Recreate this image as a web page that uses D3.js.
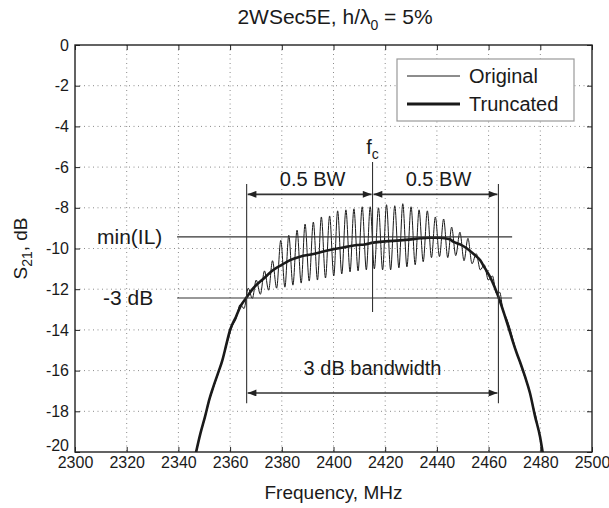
<!DOCTYPE html>
<html><head><meta charset="utf-8">
<script src="https://cdn.jsdelivr.net/npm/d3@7"></script>
<style>
body{margin:0;background:#fff}
svg{display:block}
text{font-family:"Liberation Sans",Arial,Helvetica,sans-serif;fill:#1a1a1a}
</style>
</head><body>
<svg id="chart" width="609" height="508"></svg>
<script>
// ---------- data ----------
const xTickValues = [2300,2320,2340,2360,2380,2400,2420,2440,2460,2480,2500];
const yTickValues = [0,-2,-4,-6,-8,-10,-12,-14,-16,-18,-20];

const truncFreq = [2346.5,2348.5,2350.3,2352.0,2353.5,2355.4,2357.0,2358.0,2360.0,2362.3,2364.0,2366.4,2369.0,2372.8,2376.7,2380.0,2383.2,2387.0,2392.2,2396.0,2399.9,2405.0,2409.0,2412.0,2415.4,2420.0,2425.7,2430.0,2433.5,2437.0,2441.2,2445.0,2446.3,2449.0,2451.5,2454.0,2456.7,2458.5,2460.5,2462.2,2463.8,2466.0,2467.6,2469.2,2470.9,2472.5,2474.1,2476.0,2478.0,2479.9,2480.9,2481.3];
const truncDb   = [-20.2,-19.1,-18.26,-17.4,-16.8,-16.1,-15.5,-15.0,-14.0,-13.35,-12.85,-12.4,-11.95,-11.5,-11.06,-10.8,-10.57,-10.4,-10.27,-10.15,-10.04,-9.92,-9.83,-9.8,-9.71,-9.65,-9.6,-9.55,-9.5,-9.47,-9.47,-9.55,-9.66,-9.8,-9.99,-10.25,-10.57,-10.95,-11.38,-11.85,-12.37,-13.2,-13.84,-14.5,-15.15,-15.7,-16.3,-17.1,-18.26,-19.25,-20.0,-20.3];

const origFreq = [2346.6,2348.5,2350.3,2352.0,2353.5,2355.4,2357.0,2358.0,2359.3,2360.7,2362.3,2363.9,2365.4,2367.0,2368.6,2370.1,2371.7,2373.3,2374.9,2376.4,2378.0,2379.6,2381.2,2382.7,2384.3,2385.9,2387.5,2389.0,2390.6,2392.2,2393.8,2395.3,2396.9,2398.5,2400.1,2401.6,2403.2,2404.8,2406.4,2407.9,2409.5,2411.1,2412.7,2414.2,2415.8,2417.4,2419.0,2420.5,2422.1,2423.7,2425.3,2426.8,2428.4,2430.0,2431.6,2433.1,2434.7,2436.3,2437.9,2439.4,2441.0,2442.6,2444.2,2445.7,2447.3,2448.9,2450.5,2452.0,2453.6,2455.2,2456.8,2458.3,2459.9,2461.5,2463.0,2464.3,2465.5,2467.0,2468.2,2469.6,2470.9,2472.5,2474.1,2476.0,2477.3,2478.2,2479.0,2479.9,2481.0];
const origDb   = [-20.2,-19.1,-18.3,-17.45,-16.85,-16.15,-15.5,-15.0,-14.45,-13.85,-13.45,-12.75,-12.95,-11.95,-12.45,-11.55,-12.25,-11.1,-12.05,-10.6,-11.95,-9.6,-11.9,-9.35,-11.8,-9.1,-11.7,-8.8,-11.6,-8.7,-11.55,-8.45,-11.45,-8.4,-11.35,-8.15,-11.25,-8.1,-11.15,-8.05,-11.1,-7.95,-11.05,-7.95,-11.0,-8.0,-11.05,-7.85,-11.05,-7.9,-10.95,-7.8,-10.9,-7.95,-10.8,-8.1,-10.65,-8.15,-10.45,-8.45,-10.4,-8.55,-10.45,-8.95,-10.35,-9.2,-10.6,-9.5,-10.75,-10.25,-11.05,-10.8,-11.55,-11.35,-12.2,-12.15,-13.0,-13.45,-13.9,-14.55,-15.15,-15.75,-16.35,-17.1,-17.8,-18.2,-18.75,-19.3,-20.2];

// annotation values
const fLow = 2366.4, fCenter = 2415.1, fHigh = 2463.8;
const minIL = -9.43, minus3dB = -12.43;
const halfBwArrowDb = -7.34, bw3ArrowDb = -17.1;

// ---------- layout ----------
const W = 609, H = 508;
const m = {left:75, right:17, top:45, bottom:56};
const pw = W - m.left - m.right, ph = H - m.top - m.bottom;

const svg = d3.select("#chart");
const x = d3.scaleLinear().domain([2300,2500]).range([m.left, m.left+pw]);
const y = d3.scaleLinear().domain([-20,0]).range([m.top+ph, m.top]);

const defs = svg.append("defs");
defs.append("clipPath").attr("id","clip").append("rect")
  .attr("x",m.left).attr("y",m.top).attr("width",pw).attr("height",ph);
defs.append("marker").attr("id","arr")
  .attr("viewBox","0 0 10 8").attr("refX",10).attr("refY",4)
  .attr("markerWidth",10).attr("markerHeight",7)
  .attr("markerUnits","userSpaceOnUse").attr("orient","auto-start-reverse")
  .append("path").attr("d","M0,0 L10,4 L0,8 Z").attr("fill","#222");

// grid
const grid = svg.append("g");
grid.selectAll(".gx").data(xTickValues.slice(1,-1)).join("line")
  .attr("x1",d=>x(d)).attr("x2",d=>x(d)).attr("y1",m.top).attr("y2",m.top+ph)
  .attr("stroke","#8a8a8a").attr("stroke-width",1).attr("stroke-dasharray","1,3.5");
grid.selectAll(".gy").data(yTickValues.slice(1,-1)).join("line")
  .attr("y1",d=>y(d)).attr("y2",d=>y(d)).attr("x1",m.left).attr("x2",m.left+pw)
  .attr("stroke","#8a8a8a").attr("stroke-width",1).attr("stroke-dasharray","1,3.5");

// axes (ticks inward)
const fmt = d3.format("d");
const axB = svg.append("g").attr("transform",`translate(0,${m.top+ph})`)
  .call(d3.axisBottom(x).tickValues(xTickValues).tickFormat(fmt).tickSizeInner(-5).tickSizeOuter(0).tickPadding(5));
const axT = svg.append("g").attr("transform",`translate(0,${m.top})`)
  .call(d3.axisTop(x).tickValues(xTickValues).tickFormat("").tickSizeInner(-5).tickSizeOuter(0));
const axL = svg.append("g").attr("transform",`translate(${m.left},0)`)
  .call(d3.axisLeft(y).tickValues(yTickValues).tickFormat(d=>d).tickSizeInner(-5).tickSizeOuter(0).tickPadding(6));
const axR = svg.append("g").attr("transform",`translate(${m.left+pw},0)`)
  .call(d3.axisRight(y).tickValues(yTickValues).tickFormat("").tickSizeInner(-5).tickSizeOuter(0));
[axB,axT,axL,axR].forEach(a=>{
  a.select(".domain").remove();
  a.selectAll(".tick line").attr("stroke","#222");
  a.selectAll("text").attr("font-size","16px").attr("fill","#1a1a1a")
    .attr("font-family","'Liberation Sans',Arial,sans-serif");
});
axB.selectAll("text").attr("dy","0.66em");
axL.selectAll(".tick").filter(d=>d===-20).select("text").attr("dy","-0.1em");

// frame
svg.append("rect").attr("x",m.left).attr("y",m.top).attr("width",pw).attr("height",ph)
  .attr("fill","none").attr("stroke","#222").attr("stroke-width",1.4);

// series
const plot = svg.append("g").attr("clip-path","url(#clip)");
const origData = origFreq.map((f,i)=>[f,origDb[i]]);
const truncData = truncFreq.map((f,i)=>[f,truncDb[i]]);
plot.append("path").datum(origData)
  .attr("d",d3.line().x(d=>x(d[0])).y(d=>y(d[1])).curve(d3.curveMonotoneX))
  .attr("fill","none").attr("stroke","#1a1a1a").attr("stroke-width",1);
plot.append("path").datum(truncData)
  .attr("d",d3.line().x(d=>x(d[0])).y(d=>y(d[1])).curve(d3.curveMonotoneX))
  .attr("fill","none").attr("stroke","#1a1a1a").attr("stroke-width",2.6);

// annotations
const ann = svg.append("g").attr("stroke","#333").attr("stroke-width",1.1).attr("fill","none");
const hxs = [2339.5, 2469.1];
[minIL, minus3dB].forEach(v=>{
  ann.append("line").attr("x1",x(hxs[0])).attr("x2",x(hxs[1])).attr("y1",y(v)).attr("y2",y(v));
});
[fLow,fHigh].forEach(f=>{
  ann.append("line").attr("x1",x(f)).attr("x2",x(f)).attr("y1",y(-6.83)).attr("y2",y(-17.6));
});
ann.append("line").attr("x1",x(fCenter)).attr("x2",x(fCenter)).attr("y1",y(-5.75)).attr("y2",y(-13.12));
const arrows = [[fLow,fCenter,halfBwArrowDb],[fCenter,fHigh,halfBwArrowDb],[fLow,fHigh,bw3ArrowDb]];
arrows.forEach(([a,b,v])=>{
  ann.append("line").attr("x1",x(a)+1).attr("x2",x(b)-1).attr("y1",y(v)).attr("y2",y(v))
    .attr("stroke-width",1.6).attr("marker-start","url(#arr)").attr("marker-end","url(#arr)");
});

const txt = svg.append("g").attr("font-size","20px");
txt.append("text").attr("x",x((fLow+fCenter)/2)+3).attr("y",y(halfBwArrowDb)-8).attr("text-anchor","middle").text("0.5 BW");
txt.append("text").attr("x",x((fCenter+fHigh)/2)+3).attr("y",y(halfBwArrowDb)-8).attr("text-anchor","middle").text("0.5 BW");
txt.append("text").attr("x",x((fLow+fHigh)/2)).attr("y",y(bw3ArrowDb)-18).attr("text-anchor","middle").text("3 dB bandwidth");
txt.append("text").attr("x",97).attr("y",y(minIL)+7).attr("font-size","21px").text("min(IL)");
txt.append("text").attr("x",103).attr("y",y(minus3dB)+7).attr("font-size","21px").text("-3 dB");
const fc = txt.append("text").attr("x",x(fCenter)).attr("y",y(-5.75)-8).attr("text-anchor","middle");
fc.append("tspan").text("f");
fc.append("tspan").attr("font-size","14px").attr("dy","5").text("c");

// title
const t = svg.append("text").attr("x",335).attr("y",24).attr("text-anchor","middle").attr("font-size","21px");
t.append("tspan").text("2WSec5E, h/λ");
t.append("tspan").attr("font-size","14px").attr("dy","6").text("0");
t.append("tspan").attr("dy","-6").text(" = 5%");

// axis labels
svg.append("text").attr("x",m.left+pw/2).attr("y",499).attr("text-anchor","middle").attr("font-size","19px").text("Frequency, MHz");
const yl = svg.append("text").attr("transform",`translate(27,${m.top+ph/2}) rotate(-90)`).attr("text-anchor","middle").attr("font-size","19px");
yl.append("tspan").text("S");
yl.append("tspan").attr("font-size","14px").attr("dy","5").text("21");
yl.append("tspan").attr("dy","-5").text(", dB");

// legend
const lg = svg.append("g");
lg.append("rect").attr("x",397).attr("y",59).attr("width",177).attr("height",62)
  .attr("fill","#fff").attr("stroke","#999").attr("stroke-width",1.2);
lg.append("line").attr("x1",407).attr("x2",460).attr("y1",76).attr("y2",76).attr("stroke","#1a1a1a").attr("stroke-width",1);
lg.append("line").attr("x1",407).attr("x2",460).attr("y1",104).attr("y2",104).attr("stroke","#1a1a1a").attr("stroke-width",2.8);
lg.append("text").attr("x",469).attr("y",83).attr("font-size","20px").text("Original");
lg.append("text").attr("x",469).attr("y",111).attr("font-size","20px").text("Truncated");
</script>
</body></html>
